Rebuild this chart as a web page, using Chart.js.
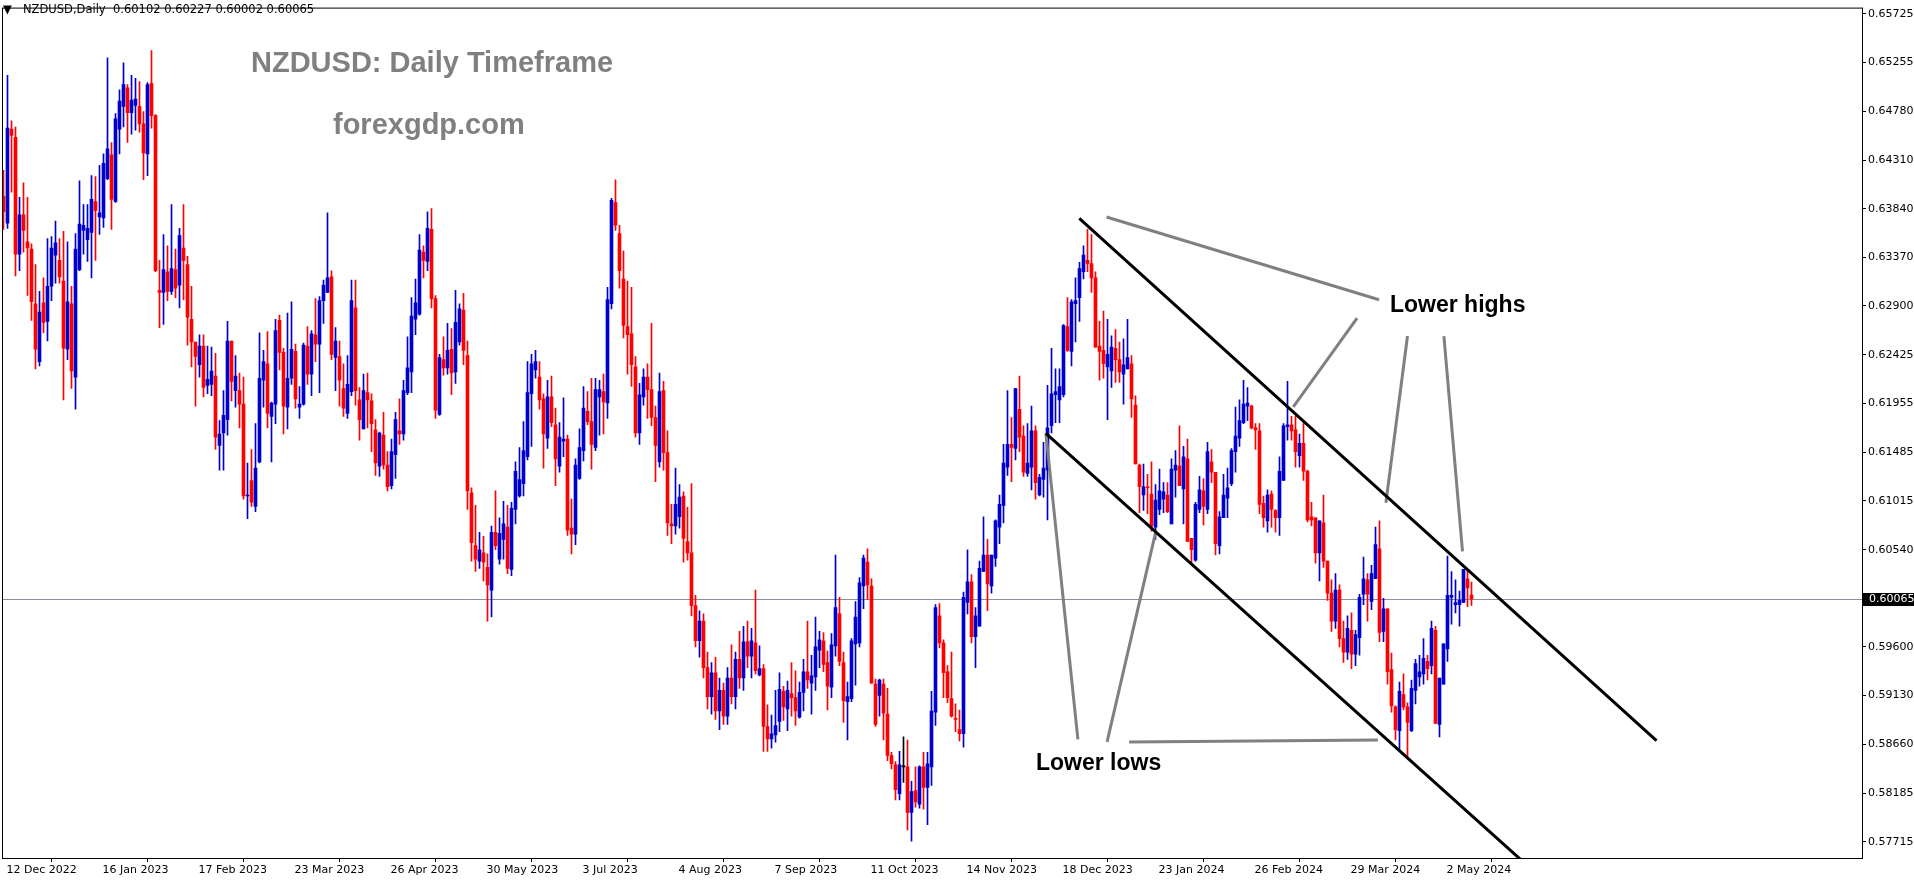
<!DOCTYPE html>
<html>
<head>
<meta charset="utf-8">
<script src="https://cdn.jsdelivr.net/npm/chart.js@4.4.1/dist/chart.umd.min.js"></script>
<style>
  html, body { margin: 0; padding: 0; background: #fff; }
  #wrap { width: 1914px; height: 884px; }
</style>
</head>
<body>
<div id="wrap"><canvas id="chart" width="1914" height="884"></canvas></div>
<script>
// daily NZDUSD candles, 12 Dec 2022 .. 13 May 2024
const opens = [
  .6396,.6370,.6461,.6453,.6340,.6378,.6352,.6345,.6292,.6236,.6293,.6275,
  .6309,.6339,.6334,.6314,.6248,.6292,.6221,.6325,.6363,.6354,.6361,.6391,
  .6376,.6375,.6413,.6436,.6391,.6461,.6483,.6501,.6477,.6484,.6483,.6466,
  .6437,.6505,.6474,.6305,.6303,.6323,.6304,.6325,.6310,.6346,.6330,.6277,
  .6255,.6233,.6251,.6213,.6214,.6222,.6155,.6167,.6180,.6256,.6208,.6208,
  .6195,.6106,.6121,.6096,.6139,.6218,.6234,.6183,.6195,.6276,.6245,.6192,
  .6220,.6246,.6192,.6195,.6251,.6224,.6262,.6253,.6295,.6303,.6318,.6240,
  .6241,.6210,.6186,.6207,.6288,.6199,.6171,.6206,.6198,.6170,.6135,.6165,
  .6136,.6116,.6146,.6169,.6166,.6206,.6226,.6277,.6282,.6342,.6333,.6364,
  .6297,.6185,.6238,.6230,.6248,.6226,.6255,.6286,.6242,.6109,.6058,.6043,
  .6051,.6037,.6015,.6071,.6045,.6064,.6076,.6035,.6093,.6106,.6118,.6144,
  .6205,.6228,.6221,.6200,.6162,.6202,.6175,.6135,.6159,.6161,.6075,.6069,
  .6123,.6150,.6188,.6178,.6153,.6202,.6207,.6196,.6292,.6390,.6360,.6316,
  .6270,.6263,.6231,.6167,.6202,.6221,.6209,.6182,.6139,.6208,.6148,.6079,
  .6077,.6086,.6106,.6062,.6051,.6000,.5966,.5985,.5940,.5912,.5935,.5898,
  .5918,.5893,.5930,.5912,.5948,.5930,.5965,.5951,.5964,.5933,.5939,.5883,
  .5871,.5875,.5888,.5917,.5900,.5915,.5911,.5892,.5916,.5936,.5925,.5931,
  .5957,.5966,.5945,.5921,.5961,.5992,.5945,.5907,.5910,.5963,.5964,.6019,
  .6042,.6019,.5924,.5913,.5924,.5895,.5855,.5846,.5818,.5844,.5844,.5800,
  .5821,.5808,.5844,.5824,.5844,.5897,.5990,.5964,.5936,.5910,.5891,.5880,
  .5876,.6003,.6023,.5970,.5980,.6033,.6049,.6019,.6046,.6076,.6097,.6134,
  .6156,.6152,.6190,.6164,.6128,.6134,.6169,.6107,.6122,.6131,.6174,.6204,
  .6199,.6204,.6270,.6246,.6292,.6298,.6323,.6334,.6331,.6317,.6251,.6247,
  .6231,.6227,.6249,.6238,.6224,.6229,.6234,.6194,.6136,.6107,.6115,.6108,
  .6076,.6093,.6103,.6107,.6079,.6131,.6135,.6113,.6142,.6065,.6044,.6093,
  .6111,.6093,.6139,.6129,.6058,.6085,.6104,.6118,.6149,.6162,.6177,.6193,
  .6193,.6172,.6169,.6099,.6082,.6108,.6092,.6085,.6121,.6173,.6175,.6170,
  .6145,.6157,.6130,.6086,.6085,.6051,.6080,.6043,.6012,.5985,.6015,.5968,
  .5955,.5976,.5953,.5969,.6011,.6025,.6004,.6026,.6055,.5975,.5997,.5938,
  .5902,.5879,.5914,.5902,.5879,.5918,.5931,.5934,.5946,.5942,.5976,.5885,
  .5924,.5958,.6008,.6001,.6001,.6003,.6026,.60102
];
const highs = [
  .6421,.6513,.6469,.6463,.6395,.6409,.6395,.6350,.6330,.6304,.6317,.6355,
  .6357,.6372,.6355,.6362,.6352,.6309,.6360,.6411,.6388,.6388,.6416,.6415,
  .6426,.6437,.6530,.6448,.6476,.6499,.6525,.6504,.6513,.6510,.6507,.6478,
  .6506,.6537,.6475,.6334,.6359,.6348,.6388,.6345,.6365,.6388,.6338,.6309,
  .6255,.6262,.6262,.6251,.6250,.6244,.6179,.6208,.6275,.6256,.6242,.6225,
  .6221,.6138,.6151,.6176,.6264,.6247,.6265,.6197,.6277,.6281,.6249,.6283,
  .6294,.6253,.6212,.6254,.6270,.6266,.6297,.6299,.6315,.6380,.6324,.6269,
  .6256,.6234,.6242,.6315,.6315,.6211,.6224,.6225,.6205,.6180,.6168,.6187,
  .6149,.6161,.6187,.6200,.6218,.6260,.6298,.6316,.6359,.6348,.6381,.6384,
  .6300,.6243,.6260,.6273,.6268,.6305,.6292,.6302,.6256,.6114,.6097,.6071,
  .6067,.6050,.6077,.6111,.6085,.6101,.6097,.6100,.6139,.6153,.6178,.6236,
  .6243,.6247,.6236,.6205,.6218,.6222,.6191,.6177,.6201,.6165,.6103,.6142,
  .6171,.6212,.6207,.6220,.6220,.6218,.6224,.6308,.6394,.6412,.6368,.6343,
  .6314,.6308,.6241,.6215,.6229,.6234,.6273,.6193,.6225,.6217,.6169,.6098,
  .6133,.6117,.6110,.6095,.6118,.6010,.5995,.5992,.5955,.5945,.5950,.5930,
  .5925,.5940,.5962,.5955,.5975,.5980,.5985,.5978,.6015,.5961,.5943,.5904,
  .5894,.5918,.5935,.5922,.5927,.5945,.5937,.5926,.5948,.5985,.5952,.5989,
  .5975,.5974,.5956,.5973,.6049,.6008,.5955,.5926,.5968,.6004,.6027,.6049,
  .6055,.6026,.5929,.5929,.5929,.5920,.5858,.5849,.5859,.5873,.5870,.5830,
  .5844,.5845,.5858,.5858,.5917,.6001,.6002,.5967,.5942,.5955,.5905,.5899,
  .6013,.6054,.6030,.5998,.6043,.6086,.6064,.6049,.6083,.6107,.6156,.6208,
  .6182,.6210,.6222,.6174,.6176,.6193,.6174,.6127,.6158,.6213,.6249,.6229,
  .6229,.6272,.6298,.6296,.6317,.6332,.6348,.6364,.6359,.6323,.6275,.6285,
  .6277,.6261,.6267,.6255,.6258,.6277,.6242,.6203,.6137,.6137,.6127,.6139,
  .6117,.6132,.6119,.6119,.6142,.6150,.6174,.6154,.6161,.6065,.6100,.6125,
  .6123,.6158,.6151,.6129,.6091,.6127,.6133,.6152,.6192,.6199,.6218,.6211,
  .6194,.6176,.6176,.6106,.6112,.6111,.6093,.6144,.6176,.6217,.6183,.6183,
  .6166,.6176,.6131,.6100,.6085,.6082,.6107,.6043,.6025,.6031,.6020,.5985,
  .5990,.5993,.5976,.6011,.6047,.6031,.6039,.6076,.6082,.6007,.5997,.5954,
  .5903,.5926,.5934,.5906,.5928,.5948,.5952,.5968,.5952,.5985,.5980,.5930,
  .5963,.6048,.6033,.6025,.6014,.6035,.6034,.60227
];
const lows = [
  .6364,.6365,.6400,.6319,.6324,.6342,.6300,.6276,.6229,.6232,.6264,.6256,
  .6295,.6312,.6312,.6199,.6238,.6210,.6190,.6324,.6340,.6333,.6317,.6334,
  .6359,.6366,.6412,.6364,.6390,.6437,.6463,.6448,.6456,.6460,.6458,.6412,
  .6416,.6462,.6323,.6269,.6272,.6295,.6301,.6298,.6288,.6296,.6252,.6231,
  .6193,.6221,.6202,.6205,.6203,.6151,.6131,.6131,.6165,.6198,.6192,.6172,
  .6103,.6084,.6096,.6091,.6138,.6192,.6172,.6139,.6176,.6228,.6166,.6171,
  .6214,.6191,.6181,.6194,.6214,.6203,.6236,.6206,.6273,.6303,.6238,.6208,
  .6193,.6183,.6181,.6203,.6194,.6160,.6171,.6172,.6149,.6126,.6125,.6132,
  .6111,.6113,.6123,.6156,.6160,.6204,.6206,.6262,.6281,.6317,.6324,.6288,
  .6181,.6184,.6223,.6224,.6204,.6215,.6252,.6233,.6093,.6043,.6033,.6036,
  .6024,.5985,.5989,.6054,.6040,.6045,.6031,.6029,.6079,.6105,.6106,.6141,
  .6154,.6220,.6190,.6133,.6152,.6173,.6116,.6129,.6144,.6068,.6050,.6059,
  .6122,.6140,.6175,.6132,.6150,.6165,.6166,.6181,.6287,.6363,.6307,.6259,
  .6224,.6212,.6163,.6156,.6194,.6181,.6174,.6120,.6134,.6131,.6068,.6060,
  .6069,.6075,.6042,.6044,.5990,.5960,.5950,.5930,.5900,.5895,.5890,.5880,
  .5885,.5885,.5905,.5900,.5920,.5918,.5940,.5930,.5934,.5932,.5859,.5859,
  .5862,.5868,.5878,.5889,.5879,.5893,.5884,.5891,.5898,.5920,.5895,.5918,
  .5940,.5936,.5899,.5911,.5951,.5942,.5887,.5870,.5907,.5923,.5960,.5997,
  .6006,.5925,.5883,.5893,.5870,.5850,.5842,.5812,.5812,.5829,.5783,.5772,
  .5805,.5804,.5803,.5788,.5826,.5884,.5959,.5911,.5906,.5892,.5878,.5869,
  .5863,.5992,.5964,.5940,.5980,.6033,.5995,.6012,.6038,.6060,.6080,.6126,
  .6120,.6141,.6149,.6125,.6125,.6112,.6103,.6106,.6105,.6083,.6167,.6177,
  .6177,.6202,.6246,.6232,.6255,.6275,.6316,.6323,.6303,.6250,.6218,.6220,
  .6180,.6211,.6216,.6216,.6195,.6229,.6182,.6137,.6090,.6092,.6089,.6072,
  .6064,.6088,.6090,.6090,.6079,.6105,.6116,.6079,.6062,.6042,.6043,.6090,
  .6078,.6089,.6119,.6049,.6050,.6085,.6085,.6116,.6129,.6154,.6176,.6179,
  .6171,.6151,.6089,.6076,.6071,.6076,.6071,.6068,.6121,.6160,.6160,.6134,
  .6134,.6121,.6081,.6077,.6041,.6024,.6037,.6005,.5975,.5978,.5960,.5945,
  .5948,.5939,.5942,.5952,.6001,.5985,.5996,.6026,.5965,.5965,.5924,.5897,
  .5870,.5860,.5899,.5853,.5878,.5905,.5922,.5924,.5928,.5934,.5886,.5873,
  .5924,.5946,.5982,.5993,.5980,.6003,.5999,.60002
];
const closes = [
  .6381,.6462,.6455,.6340,.6378,.6363,.6346,.6294,.6248,.6284,.6274,.6309,
  .6346,.6351,.6318,.6249,.6294,.6227,.6345,.6369,.6368,.6365,.6393,.6382,
  .6380,.6428,.6442,.6393,.6471,.6488,.6504,.6477,.6489,.6490,.6466,.6438,
  .6504,.6474,.6324,.6303,.6325,.6304,.6326,.6307,.6358,.6334,.6279,.6255,
  .6241,.6251,.6211,.6219,.6227,.6163,.6166,.6184,.6256,.6217,.6222,.6195,
  .6106,.6107,.6100,.6133,.6220,.6236,.6186,.6196,.6266,.6245,.6193,.6220,
  .6248,.6200,.6195,.6252,.6224,.6263,.6253,.6295,.6310,.6317,.6243,.6256,
  .6218,.6191,.6214,.6295,.6208,.6180,.6208,.6199,.6176,.6138,.6167,.6136,
  .6115,.6149,.6180,.6166,.6208,.6230,.6280,.6293,.6344,.6334,.6365,.6297,
  .6189,.6240,.6230,.6247,.6225,.6274,.6287,.6247,.6111,.6061,.6045,.6054,
  .6042,.6020,.6071,.6058,.6070,.6079,.6036,.6094,.6130,.6122,.6150,.6206,
  .6234,.6236,.6199,.6166,.6202,.6177,.6142,.6163,.6161,.6073,.6069,.6136,
  .6153,.6191,.6178,.6156,.6209,.6209,.6197,.6296,.6392,.6368,.6324,.6271,
  .6262,.6233,.6167,.6204,.6221,.6209,.6182,.6155,.6207,.6148,.6080,.6077,
  .6098,.6105,.6065,.6051,.6000,.5966,.5985,.5940,.5912,.5935,.5898,.5918,
  .5893,.5930,.5912,.5948,.5930,.5965,.5951,.5966,.5937,.5939,.5883,.5871,
  .5876,.5884,.5919,.5902,.5918,.5911,.5898,.5916,.5936,.5928,.5932,.5960,
  .5967,.5943,.5922,.5962,.5998,.5946,.5908,.5912,.5966,.5989,.6022,.6046,
  .6020,.5925,.5885,.5928,.5896,.5855,.5847,.5822,.5846,.5844,.5800,.5820,
  .5810,.5844,.5824,.5847,.5898,.5998,.5964,.5935,.5911,.5893,.5890,.5876,
  .6008,.6023,.5970,.5990,.6036,.6049,.6021,.6049,.6082,.6098,.6138,.6156,
  .6153,.6210,.6163,.6129,.6138,.6169,.6119,.6124,.6133,.6172,.6205,.6207,
  .6212,.6271,.6247,.6294,.6295,.6326,.6339,.6331,.6317,.6250,.6246,.6234,
  .6243,.6250,.6238,.6226,.6233,.6240,.6200,.6137,.6115,.6115,.6114,.6077,
  .6102,.6111,.6110,.6091,.6132,.6136,.6116,.6144,.6062,.6054,.6098,.6112,
  .6096,.6149,.6129,.6060,.6086,.6107,.6114,.6150,.6164,.6179,.6195,.6196,
  .6172,.6170,.6098,.6085,.6107,.6093,.6085,.6130,.6174,.6175,.6169,.6149,
  .6157,.6130,.6083,.6083,.6051,.6082,.6043,.6012,.5985,.6015,.5968,.5955,
  .5978,.5953,.5972,.6008,.6026,.6011,.6031,.6059,.5974,.5997,.5936,.5903,
  .5880,.5917,.5902,.5887,.5920,.5944,.5936,.5949,.5939,.5978,.5886,.5930,
  .5963,.6010,.6010,.6003,.6005,.6035,.6017,.60065
];

// bottom axis labels, one every 24 bars
const dateLabels = ['12 Dec 2022', '16 Jan 2023', '17 Feb 2023', '23 Mar 2023', '26 Apr 2023', '30 May 2023',
  '3 Jul 2023', '4 Aug 2023', '7 Sep 2023', '11 Oct 2023', '14 Nov 2023', '18 Dec 2023',
  '23 Jan 2024', '26 Feb 2024', '29 Mar 2024', '2 May 2024'];
const dateBars = [0, 24, 48, 72, 96, 120, 144, 168, 192, 216, 240, 264, 288, 312, 336, 360];

// right axis prices
const priceTicks = [0.65725, 0.65255, 0.64780, 0.64310, 0.63840, 0.63370, 0.62900, 0.62425, 0.61955,
  0.61485, 0.61015, 0.60540, 0.59600, 0.59130, 0.58660, 0.58185, 0.57715];
const lastPrice = 0.60065;

// drawn lines, [bar, price, bar, price]
const channelLines = [
  [268.95, 0.63747, 413.25, 0.58694],
  [260.6, 0.61667, 400, 0.56824]
];
const pointerLines = [
  [275.75, 0.63760, 343.9, 0.62959],
  [351.0, 0.62608, 345.6, 0.60995],
  [360.1, 0.62608, 364.75, 0.60525],
  [338.4, 0.62781, 322.45, 0.61923],
  [268.6, 0.58705, 260.6, 0.61667],
  [275.9, 0.58681, 288.1, 0.60721],
  [281.4, 0.58681, 343.6, 0.58701]
];

const BULL = '#0000cd';
const BEAR = '#ff0000';
const MT_FONT = '"DejaVu Sans", Verdana, sans-serif';

const bars = opens.map((_, i) => i);
const candleColor = i => closes[i] > opens[i] ? BULL : (closes[i] < opens[i] ? BEAR : '#000000');
const colors = bars.map(candleColor);

const mt4Plugin = {
  id: 'mt4',
  beforeDatasetsDraw(chart) {
    const { ctx, chartArea: a, scales: { y } } = chart;
    const py = Math.round(y.getPixelForValue(lastPrice)) + 0.5;
    ctx.save();
    ctx.strokeStyle = '#8a8f99';
    ctx.lineWidth = 1;
    ctx.beginPath();
    ctx.moveTo(a.left, py);
    ctx.lineTo(a.right, py);
    ctx.stroke();
    ctx.restore();
  },
  afterDatasetsDraw(chart) {
    const { ctx, chartArea: a, scales: { x, y } } = chart;
    ctx.save();
    ctx.beginPath();
    ctx.rect(a.left, a.top, a.right - a.left, a.bottom - a.top);
    ctx.clip();
    ctx.lineCap = 'butt';
    const seg = (l) => {
      ctx.beginPath();
      ctx.moveTo(x.getPixelForValue(l[0]), y.getPixelForValue(l[1]));
      ctx.lineTo(x.getPixelForValue(l[2]), y.getPixelForValue(l[3]));
      ctx.stroke();
    };
    ctx.strokeStyle = '#808080';
    ctx.lineWidth = 3;
    pointerLines.forEach(seg);
    ctx.strokeStyle = '#000000';
    ctx.lineWidth = 3;
    channelLines.forEach(seg);

    // labels
    ctx.fillStyle = '#000000';
    ctx.font = 'bold 23px "Liberation Sans", Arial, sans-serif';
    ctx.textBaseline = 'middle';
    ctx.fillText('Lower highs', 1390, 306);
    ctx.fillText('Lower lows', 1036, 764);

    ctx.fillStyle = '#808080';
    ctx.font = 'bold 29px "Liberation Sans", Arial, sans-serif';
    ctx.fillText('NZDUSD: Daily Timeframe', 251, 63.5);
    ctx.fillText('forexgdp.com', 333, 125.5);
    ctx.restore();
  },
  afterDraw(chart) {
    const { ctx, chartArea: a, scales: { y } } = chart;
    ctx.save();
    // frame
    ctx.strokeStyle = '#000000';
    ctx.lineWidth = 1;
    ctx.strokeRect(a.left - 0.5, a.top - 0.5, a.right - a.left + 1, a.bottom - a.top + 1);

    // header
    ctx.fillStyle = '#000000';
    ctx.font = '11.5px ' + MT_FONT;
    ctx.textBaseline = 'middle';
    ctx.fillText('\u25BC', 3, 10);
    ctx.fillText('NZDUSD,Daily  0.60102 0.60227 0.60002 0.60065', 23, 10);

    // last price box
    const py = Math.round(y.getPixelForValue(lastPrice));
    ctx.fillStyle = '#000000';
    ctx.fillRect(a.right + 1, py - 6, 1914 - a.right - 1, 13);
    ctx.fillStyle = '#ffffff';
    ctx.font = '11px ' + MT_FONT;
    ctx.fillText(lastPrice.toFixed(5), a.right + 7, py + 0.5);
    ctx.restore();
  }
};

new Chart(document.getElementById('chart'), {
  type: 'bar',
  data: {
    datasets: [
      {
        label: 'wick',
        data: bars.map(i => ({ x: i, y: [lows[i], highs[i]] })),
        backgroundColor: colors,
        barThickness: 1,
        grouped: false,
        order: 2
      },
      {
        label: 'body',
        data: bars.map(i => ({ x: i, y: [opens[i], closes[i]] })),
        backgroundColor: colors,
        barThickness: 3,
        minBarLength: 1,
        grouped: false,
        order: 1
      }
    ]
  },
  options: {
    responsive: false,
    animation: false,
    devicePixelRatio: 1,
    layout: { padding: { left: 3, top: 2, right: 0, bottom: 0 } },
    plugins: { legend: { display: false }, tooltip: { enabled: false } },
    scales: {
      x: {
        type: 'linear',
        bounds: 'data',
        min: -0.125,
        max: 464.625,
        offset: false,
        afterFit: s => { s.height = 26; },
        afterBuildTicks: s => { s.ticks = dateBars.map(v => ({ value: v })); },
        border: { display: false },
        grid: { drawOnChartArea: false, drawTicks: true, tickLength: 4, color: '#000000' },
        ticks: {
          autoSkip: false,
          maxRotation: 0,
          align: 'start',
          labelOffset: 3,
          padding: 2,
          color: '#000000',
          font: { family: MT_FONT, size: 11 },
          callback: v => dateLabels[dateBars.indexOf(v)]
        }
      },
      y: {
        position: 'right',
        bounds: 'data',
        min: 0.575582,
        max: 0.657758,
        afterFit: s => { s.width = 1914 - 1862; },
        afterBuildTicks: s => { s.ticks = priceTicks.map(v => ({ value: v })); },
        border: { display: false },
        grid: { drawOnChartArea: false, drawTicks: true, tickLength: 4, color: '#000000' },
        ticks: {
          padding: 2,
          color: '#000000',
          font: { family: MT_FONT, size: 11 },
          callback: v => v.toFixed(5)
        }
      }
    }
  },
  plugins: [mt4Plugin]
});
</script>
</body>
</html>
